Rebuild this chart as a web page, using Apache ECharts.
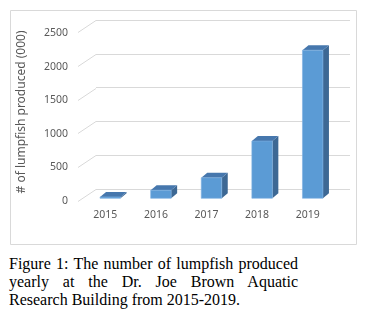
<!DOCTYPE html>
<html>
<head>
<meta charset="utf-8">
<script src="https://cdn.jsdelivr.net/npm/echarts@6/dist/echarts.min.js"></script>
<style>
html,body{margin:0;padding:0;background:#fff;}
#wrap{position:relative;width:369px;height:323px;overflow:hidden;}
#chart{position:absolute;left:0;top:0;width:369px;height:250px;}
#caption{position:absolute;left:9px;top:255px;width:289px;font-family:"Liberation Serif","Times New Roman",serif;font-size:16px;line-height:18px;color:#000;text-align:justify;}
</style>
</head>
<body>
<div id="wrap">
<div id="chart"></div>
<div id="caption">Figure 1: The number of lumpfish produced yearly at the Dr. Joe Brown Aquatic Research Building from 2015-2019.</div>
</div>
<script>
// ---- data ----
const years = ['2015', '2016', '2017', '2018', '2019'];
const produced = [20, 120, 305, 850, 2200];
const yTicks = [0, 500, 1000, 1500, 2000, 2500];
const yTitle = '# of lumpfish produced (000)';

const yMin = yTicks[0], yMax = yTicks[yTicks.length - 1], yStep = yTicks[1] - yTicks[0];
const textColor = '#595959';
const gridColor = '#d9d9d9';
const font = 'Noto Sans';

const chart = echarts.init(document.getElementById('chart'), null, {renderer: 'canvas'});

const DX = 6, DY = 5;       // bar depth
const WX = 18, WY = 12;     // wall depth

chart.setOption({
  animation: false,
  graphic: [
    {type: 'rect', shape: {x: 10.5, y: 10.5, width: 346, height: 234}, style: {fill: 'none', stroke: gridColor, lineWidth: 1}, z: -1},
    {type: 'text', x: 22, y: 112, rotation: Math.PI / 2,
     style: {text: yTitle, fill: textColor, font: '12px "' + font + '"', align: 'center', verticalAlign: 'middle'}}
  ],
  grid: [
    {left: 96, top: 20, width: 254, height: 169},   // back wall
    {left: 80, top: 33, width: 253, height: 168},   // front plane (labels)
    {left: 85, top: 30, width: 253, height: 168.3}  // bars
  ],
  xAxis: [
    {gridIndex: 0, type: 'category', data: years, show: false},
    {gridIndex: 1, type: 'category', data: years, axisLine: {show: false}, axisTick: {show: false},
     axisLabel: {margin: 9, color: textColor, fontFamily: font, fontSize: 10.5}},
    {gridIndex: 2, type: 'category', data: years, show: false}
  ],
  yAxis: [
    {gridIndex: 0, type: 'value', min: yMin, max: yMax, interval: yStep,
     axisLabel: {show: false}, axisLine: {show: false}, axisTick: {show: false},
     splitLine: {lineStyle: {color: gridColor, width: 1}}},
    {gridIndex: 1, type: 'value', min: yMin, max: yMax, interval: yStep,
     axisLine: {show: false}, axisTick: {show: false}, splitLine: {show: false},
     axisLabel: {margin: 12, color: textColor, fontFamily: font, fontSize: 10.5, formatter: v => String(v)}},
    {gridIndex: 2, type: 'value', min: yMin, max: yMax, interval: yStep, show: false, splitLine: {show: false}}
  ],
  series: [
    {
      type: 'custom', xAxisIndex: 0, yAxisIndex: 0, silent: true,
      data: yTicks.map(v => [0, v]),
      renderItem: function (params, api) {
        const p = api.coord([0, api.value(1)]);
        const x0 = params.coordSys.x;
        return {type: 'line', shape: {x1: x0, y1: Math.round(p[1]) + 0.5, x2: x0 - WX, y2: Math.round(p[1]) + 0.5 + WY},
                style: {stroke: gridColor, lineWidth: 1}};
      }
    },
    {
      type: 'custom', xAxisIndex: 2, yAxisIndex: 2,
      data: produced.map((v, i) => [i, v]),
      renderItem: function (params, api) {
        const top = api.coord([api.value(0), api.value(1)]);
        const base = api.coord([api.value(0), 0]);
        const bw = api.size([1, 0])[0] * 0.405;
        const L = top[0] - bw / 2, R = top[0] + bw / 2, T = top[1], B = base[1];
        return {type: 'group', children: [
          {type: 'polygon', shape: {points: [[R, T], [R + DX, T - DY], [R + DX, B - DY], [R, B]]},
           style: {fill: '#3d6894'}},
          {type: 'polygon', shape: {points: [[L, T], [R, T], [R + DX, T - DY], [L + DX, T - DY]]},
           style: {fill: '#4677ad'}},
          {type: 'rect', shape: {x: L, y: T, width: R - L, height: Math.max(B - T, 0)},
           style: {fill: '#5b9bd5', stroke: '#7fb0e0', lineWidth: 0.6}}
        ]};
      }
    }
  ]
});
</script>
</body>
</html>
